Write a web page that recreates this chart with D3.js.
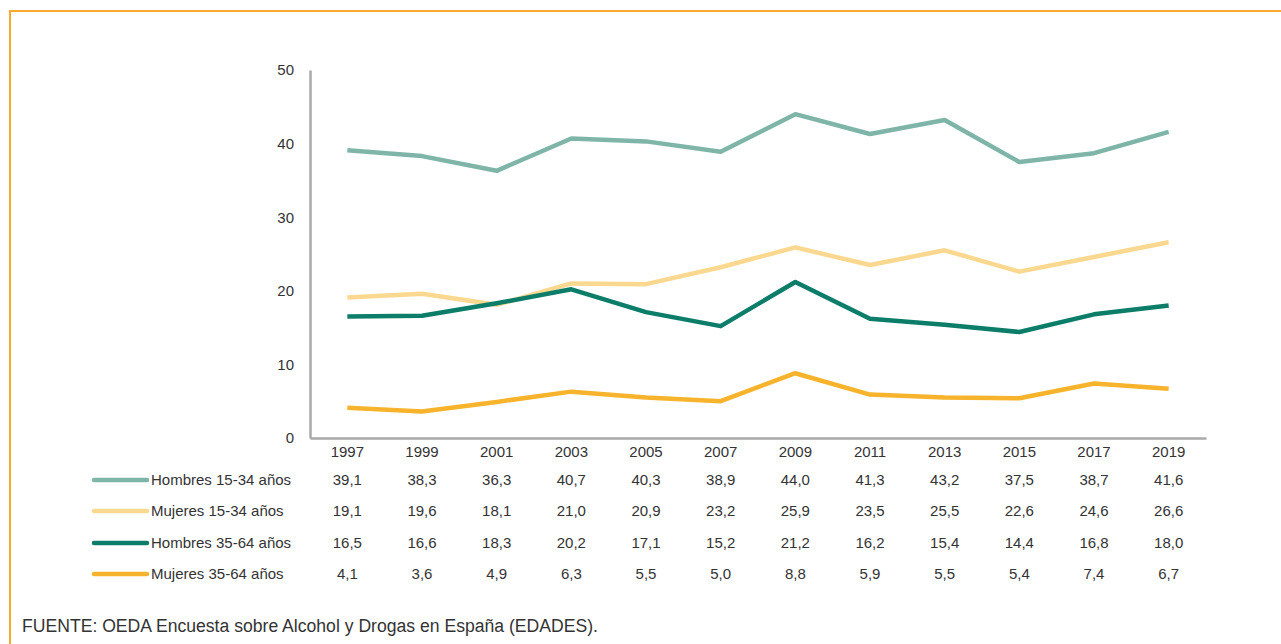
<!DOCTYPE html>
<html><head><meta charset="utf-8">
<script src="https://cdn.jsdelivr.net/npm/d3@7"></script>
<style>body{margin:0;background:#fff;}svg{display:block;font-family:"Liberation Sans",Arial,sans-serif;}</style>
</head><body><svg id="c" width="1281" height="644"></svg>
<script>
const years = ["1997","1999","2001","2003","2005","2007","2009","2011","2013","2015","2017","2019"];
const seriesNames = ["Hombres 15-34 años","Mujeres 15-34 años","Hombres 35-64 años","Mujeres 35-64 años"];
const hombres1534 = [39.1,38.3,36.3,40.7,40.3,38.9,44.0,41.3,43.2,37.5,38.7,41.6];
const mujeres1534 = [19.1,19.6,18.1,21.0,20.9,23.2,25.9,23.5,25.5,22.6,24.6,26.6];
const hombres3564 = [16.5,16.6,18.3,20.2,17.1,15.2,21.2,16.2,15.4,14.4,16.8,18.0];
const mujeres3564 = [4.1,3.6,4.9,6.3,5.5,5.0,8.8,5.9,5.5,5.4,7.4,6.7];
const yTicks = [0,10,20,30,40,50];
const colors = ["#7fb5a8","#fbd88f","#0b7d68","#f6b32b"];
const sourceText = "FUENTE: OEDA Encuesta sobre Alcohol y Drogas en España (EDADES).";

const series = [hombres1534, mujeres1534, hombres3564, mujeres3564];
const svg = d3.select("#c");
const textColor = "#333";

// frame
svg.append("rect").attr("x",10).attr("y",11).attr("width",1300).attr("height",700)
  .attr("fill","none").attr("stroke","#f9a930").attr("stroke-width",2);

const x = d3.scaleBand().domain(years).range([310,1206]);
const y = d3.scaleLinear().domain([0,50]).range([438,70]);

// axes
const yAx = svg.append("g").attr("transform","translate(310,0)")
  .call(d3.axisLeft(y).tickValues(yTicks).tickSize(0).tickPadding(16));
yAx.select(".domain").attr("stroke","#a9a9a9").attr("stroke-width",2.5);
yAx.selectAll("text").attr("font-size",15).attr("fill",textColor).attr("font-family","Liberation Sans, Arial, sans-serif");

const xAx = svg.append("g").attr("transform","translate(0,438)")
  .call(d3.axisBottom(x).tickSize(0).tickPadding(8));
xAx.select(".domain").attr("stroke","#a9a9a9").attr("stroke-width",2.5);
xAx.selectAll("text").attr("font-size",15).attr("fill",textColor).attr("font-family","Liberation Sans, Arial, sans-serif");

// lines
const line = d3.line().x((d,i)=>x(years[i])+x.bandwidth()/2).y(d=>y(d));
series.forEach((s,k)=>{
  svg.append("path").datum(s).attr("d",line).attr("fill","none")
    .attr("stroke",colors[k]).attr("stroke-width",4.5).attr("stroke-linejoin","round");
});

// table
const rowY = [480,511,543,574];
const fmt = v => v.toFixed(1).replace(".",",");
series.forEach((s,k)=>{
  const g = svg.append("g");
  g.append("line").attr("x1",94).attr("x2",147).attr("y1",rowY[k]).attr("y2",rowY[k])
    .attr("stroke",colors[k]).attr("stroke-width",4.5).attr("stroke-linecap","round");
  g.append("text").attr("x",151).attr("y",rowY[k]).attr("dy","0.35em")
    .attr("font-size",15).attr("fill",textColor).text(seriesNames[k]);
  g.selectAll(".v").data(s).enter().append("text")
    .attr("x",(d,i)=>x(years[i])+x.bandwidth()/2).attr("y",rowY[k]).attr("dy","0.35em")
    .attr("text-anchor","middle").attr("font-size",15).attr("fill",textColor).text(fmt);
});

svg.append("text").attr("x",22).attr("y",626).attr("dy","0.35em")
  .attr("font-size",17.6).attr("fill",textColor).text(sourceText);
</script></body></html>
